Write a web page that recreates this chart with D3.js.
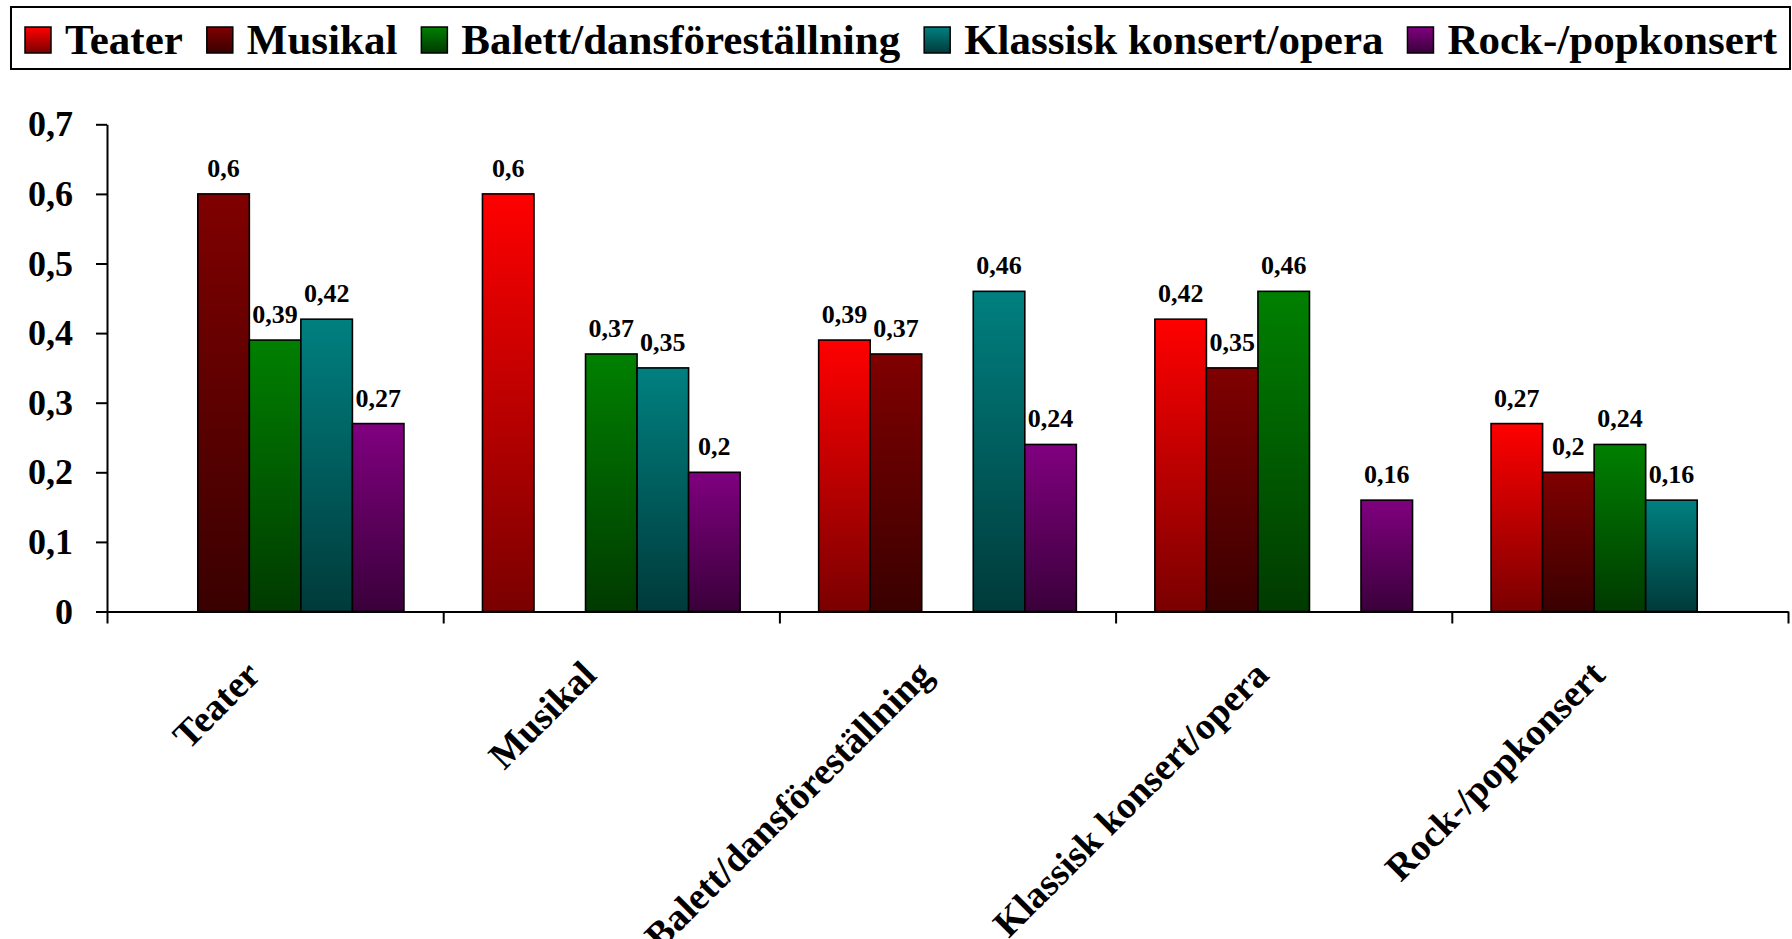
<!doctype html>
<html lang="sv">
<head>
<meta charset="UTF-8">
<title>Chart</title>
<script src="https://cdn.jsdelivr.net/npm/d3@7"></script>
<style>
  html, body { margin: 0; padding: 0; background: #fff; }
  svg text { font-family: "Liberation Serif", "Times New Roman", serif; font-weight: bold; fill: #000; }
</style>
</head>
<body>
<svg id="chart" width="1792" height="939"></svg>
<script>
// categories on the x axis, and the series (same names)
var categories = ["Teater", "Musikal", "Balett/dansföreställning", "Klassisk konsert/opera", "Rock-/popkonsert"];
var seriesNames = ["Teater", "Musikal", "Balett/dansföreställning", "Klassisk konsert/opera", "Rock-/popkonsert"];

// values per series, one entry per category (null = no bar)
var teater   = [null, 0.6, 0.39, 0.42, 0.27];
var musikal  = [0.6, null, 0.37, 0.35, 0.2];
var balett   = [0.39, 0.37, null, 0.46, 0.24];
var klassisk = [0.42, 0.35, 0.46, null, 0.16];
var rock     = [0.27, 0.2, 0.24, 0.16, null];
var seriesValues = [teater, musikal, balett, klassisk, rock];

var yTicks = [0, 0.1, 0.2, 0.3, 0.4, 0.5, 0.6, 0.7];

var topColors    = ["#ff0000", "#800000", "#008000", "#008080", "#800080"];
var bottomColors = ["#7a0000", "#3a0000", "#003a00", "#003a3a", "#3a003a"];

var svg = d3.select("#chart");
var fmt = function(v) { return String(v).replace(".", ","); };

// gradients
var defs = svg.append("defs");
seriesNames.forEach(function(s, i) {
  var g = defs.append("linearGradient")
      .attr("id", "grad" + i)
      .attr("x1", 0).attr("y1", 0).attr("x2", 0).attr("y2", 1);
  g.append("stop").attr("offset", "0%").attr("stop-color", topColors[i]);
  g.append("stop").attr("offset", "100%").attr("stop-color", bottomColors[i]);
});

var plotLeft = 107, plotRight = 1788, plotTop = 124.3, plotBottom = 611.5;

var y = d3.scaleLinear().domain([0, 0.7]).range([plotBottom, plotTop]);
var x0 = d3.scaleBand().domain(categories).range([plotLeft, plotRight])
    .paddingInner(0.2336).paddingOuter(0.1168);
var x1 = d3.scaleBand().domain(seriesNames).range([0, x0.bandwidth()]);
var xb = d3.scaleLinear().domain([0, categories.length]).range([plotLeft, plotRight]);

// bars
var groups = svg.append("g").selectAll("g")
    .data(categories)
  .enter().append("g")
    .attr("transform", function(d) { return "translate(" + x0(d) + ",0)"; });

var cells = groups.selectAll("g")
    .data(function(c, ci) {
      return seriesNames.map(function(s, si) { return { s: s, si: si, v: seriesValues[si][ci] }; })
        .filter(function(d) { return d.v != null; });
    })
  .enter().append("g");

cells.append("rect")
    .attr("x", function(d) { return x1(d.s); })
    .attr("y", function(d) { return y(d.v); })
    .attr("width", x1.bandwidth())
    .attr("height", function(d) { return y(0) - y(d.v); })
    .attr("fill", function(d) { return "url(#grad" + d.si + ")"; })
    .attr("stroke", "#000")
    .attr("stroke-width", 1.6);

cells.append("text")
    .attr("x", function(d) { return x1(d.s) + x1.bandwidth() / 2; })
    .attr("y", function(d) { return y(d.v) - 17; })
    .attr("text-anchor", "middle")
    .style("font-size", "26px")
    .text(function(d) { return fmt(d.v); });

// y axis
var yAxis = svg.append("g")
    .attr("transform", "translate(" + plotLeft + ",0)")
    .call(d3.axisLeft(y).tickValues(yTicks).tickFormat(fmt).tickSize(11).tickSizeOuter(0).tickPadding(23));
yAxis.selectAll("text").style("font-size", "36px").style("font-family", null);
yAxis.selectAll("line, path").attr("stroke", "#000").attr("stroke-width", 2);

// x axis (group boundaries)
var xAxis = svg.append("g")
    .attr("transform", "translate(0," + plotBottom + ")")
    .call(d3.axisBottom(xb).tickValues(d3.range(categories.length + 1)).tickFormat("").tickSize(12).tickSizeOuter(0));
xAxis.selectAll("line, path").attr("stroke", "#000").attr("stroke-width", 2);

// category labels
svg.append("g").selectAll("text")
    .data(categories)
  .enter().append("text")
    .attr("transform", function(d) {
      return "translate(" + (x0(d) + x0.bandwidth() / 2 - 13) + ",677) rotate(-45)";
    })
    .attr("text-anchor", "end")
    .style("font-size", "38px")
    .text(function(d) { return d; });

// legend
svg.append("rect")
    .attr("x", 11).attr("y", 7).attr("width", 1779).attr("height", 62)
    .attr("fill", "#fff").attr("stroke", "#000").attr("stroke-width", 2);

var lx = 25;
seriesNames.forEach(function(s, i) {
  svg.append("rect")
      .attr("x", lx).attr("y", 27).attr("width", 26).attr("height", 26)
      .attr("fill", "url(#grad" + i + ")")
      .attr("stroke", "#000").attr("stroke-width", 1.5);
  var t = svg.append("text")
      .attr("x", lx + 40).attr("y", 54)
      .style("font-size", "43px")
      .text(s);
  lx += 40 + t.node().getComputedTextLength() + 24;
});
</script>
</body>
</html>
